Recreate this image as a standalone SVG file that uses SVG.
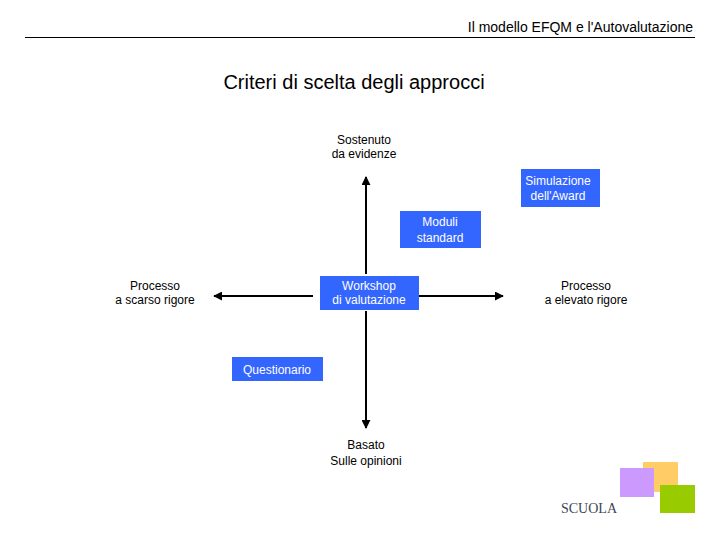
<svg xmlns="http://www.w3.org/2000/svg" width="720" height="540" viewBox="0 0 720 540">
<defs>
<style>
text{font-family:"Liberation Sans",Arial,sans-serif;font-size:12px;fill:#000;text-anchor:middle}
.w{fill:#fff}
.box{fill:#3366ff}
.ax{stroke:#000;stroke-width:2;fill:none;marker-end:url(#ah)}
</style>
<marker id="ah" viewBox="0 0 10 10" refX="9" refY="5" markerWidth="4.5" markerHeight="4.5" orient="auto" markerUnits="strokeWidth">
<path d="M0,0 L10,5 L0,10 z" fill="#000"/>
</marker>
</defs>
<rect width="720" height="540" fill="#fff"/>
<g id="header">
<text x="693" y="32" style="text-anchor:end;font-size:14px">Il modello EFQM e l'Autovalutazione</text>
<line x1="25" y1="37.5" x2="695" y2="37.5" stroke="#000" stroke-width="1"/>
</g>
<text id="title" x="354" y="89" style="font-size:20px">Criteri di scelta degli approcci</text>
<g id="connectors">
<line class="ax" x1="366" y1="274" x2="366" y2="177"/>
<line class="ax" x1="366" y1="311" x2="366" y2="428"/>
<line class="ax" x1="313" y1="296" x2="214" y2="296"/>
<line class="ax" x1="418" y1="296" x2="503" y2="296"/>
</g>
<g id="top-label"><text x="364" y="144">Sostenuto</text><text x="364" y="158">da evidenze</text></g>
<g id="bottom-label"><text x="366" y="449">Basato</text><text x="366" y="465">Sulle opinioni</text></g>
<g id="left-label"><text x="155" y="290">Processo</text><text x="155" y="304">a scarso rigore</text></g>
<g id="right-label"><text x="586" y="290">Processo</text><text x="586" y="304">a elevato rigore</text></g>
<g id="simulazione"><rect class="box" x="521" y="169" width="79" height="38"/><text class="w" x="558" y="185">Simulazione</text><text class="w" x="558" y="200">dell'Award</text></g>
<g id="moduli"><rect class="box" x="400" y="211" width="81" height="37"/><text class="w" x="440" y="226">Moduli</text><text class="w" x="440" y="242">standard</text></g>
<g id="workshop"><rect class="box" x="320" y="276" width="99" height="34"/><text class="w" x="369" y="290">Workshop</text><text class="w" x="369" y="304">di valutazione</text></g>
<g id="questionario"><rect class="box" x="232" y="357" width="91" height="24"/><text class="w" x="277" y="374">Questionario</text></g>
<g id="logo">
<rect x="643" y="462" width="35" height="30" fill="#ffcc66"/>
<rect x="620" y="468" width="34" height="29" fill="#cc99ff"/>
<rect x="660" y="485" width="35" height="28" fill="#99cc00"/>
<text x="561" y="513" style="text-anchor:start;font-family:'Liberation Serif','Times New Roman',serif;font-size:14px;fill:#3c4658">SCUOLA</text>
</g>
</svg>
